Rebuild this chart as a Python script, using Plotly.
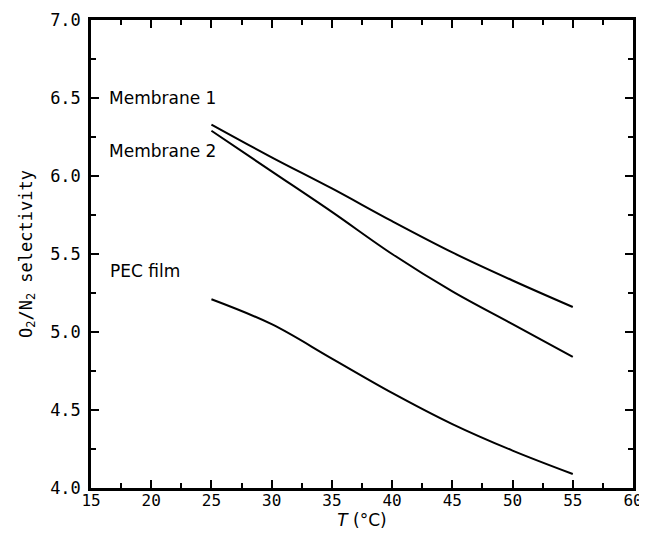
import plotly.graph_objects as go

T = [25, 30, 35, 40, 45, 50, 55]
membrane1 = [6.33, 6.12, 5.92, 5.71, 5.51, 5.33, 5.16]
membrane2 = [6.29, 6.03, 5.77, 5.50, 5.26, 5.05, 4.84]
pec_film = [5.21, 5.05, 4.83, 4.61, 4.41, 4.24, 4.09]

labels = ["Membrane 1", "Membrane 2", "PEC film"]
label_x = [16.3, 16.3, 16.4]
label_y = [6.5, 6.16, 5.39]

fig = go.Figure()
for ys in [membrane1, membrane2, pec_film]:
    fig.add_trace(go.Scatter(x=T, y=ys, mode="lines",
                             line=dict(color="black", width=2, shape="spline"),
                             showlegend=False, hoverinfo="skip"))

for t, lx, ly in zip(labels, label_x, label_y):
    fig.add_annotation(x=lx, y=ly, text=t, showarrow=False, xanchor="left",
                       font=dict(family="DejaVu Sans", size=17, color="black"))

axis_common = dict(showgrid=False, zeroline=False, showline=True, linecolor="black",
                   linewidth=2.5, mirror="ticks", ticks="inside", ticklen=8,
                   tickwidth=2, tickcolor="black", automargin=False,
                   ticklabeloverflow="allow")

fig.update_xaxes(range=[15, 60], tick0=15, dtick=5, ticklabelstandoff=-4,
                 tickfont=dict(family="DejaVu Sans Mono", size=16, color="black"),
                 minor=dict(ticks="inside", dtick=2.5, ticklen=5, tickwidth=1.5, tickcolor="black"),
                 title=dict(text="<i>T</i> (°C)", font=dict(family="DejaVu Sans", size=17, color="black"), standoff=6),
                 **axis_common)
fig.update_yaxes(range=[4.0, 7.0], tick0=4, dtick=0.5, tickformat=".1f", ticklabelstandoff=4,
                 tickfont=dict(family="DejaVu Sans Mono", size=17, color="black"),
                 minor=dict(ticks="inside", dtick=0.25, ticklen=5, tickwidth=1.5, tickcolor="black"),
                 title=dict(text="O<sub>2</sub>/N<sub>2</sub> selectivity", font=dict(family="DejaVu Sans Mono", size=17, color="black"), standoff=14),
                 **axis_common)

# page body has an 8px margin, so the figure is shifted by 8px
fig.update_layout(width=647, height=531, plot_bgcolor="white", paper_bgcolor="white",
                  margin=dict(l=83, r=22, t=12, b=51))
fig.write_html("out.html")
